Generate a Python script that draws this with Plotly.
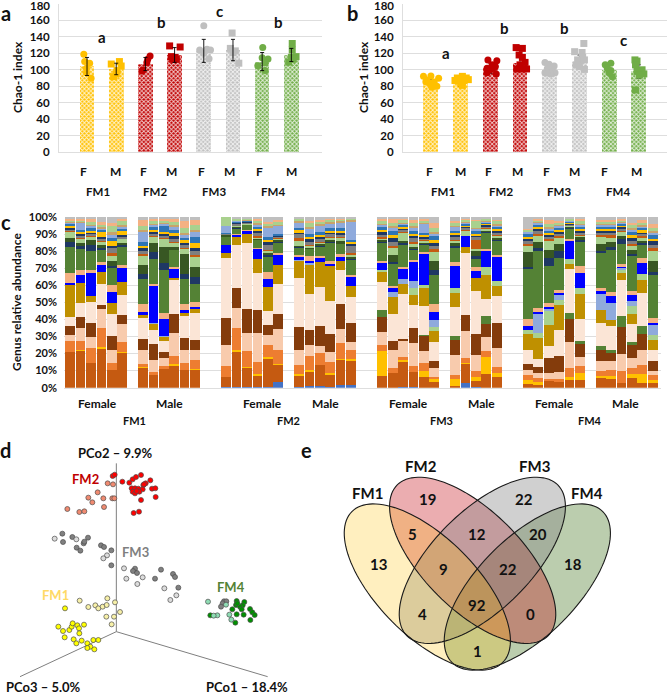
import math
import plotly.graph_objects as go

W, H = 667, 698

# ---------- panels a / b ----------
group_names = ["FM1", "FM2", "FM3", "FM4"]
sex_labels = ["F", "M", "F", "M", "F", "M", "F", "M"]
bar_colors = ["#ffc000", "#ffc000", "#c00000", "#c00000", "#bfbfbf", "#bfbfbf", "#70ad47", "#70ad47"]
dot_colors = ["#ffc000", "#ffc000", "#c00000", "#c00000", "#bfbfbf", "#bfbfbf", "#70ad47", "#70ad47"]
y_tick_values = [0, 20, 40, 60, 80, 100, 120, 140, 160]
y_top_label = "180"

a_means = [104, 101, 107, 118, 123, 124, 110, 118]
a_errors = [11, 7, 8, 9, 14, 13, 11, 8]
a_values = [
    [119, 110, 108, 102, 96.5, 89.6],
    [107, 110, 104.6, 99, 95, 91.6],
    [116.7, 112.7, 109, 99.7, 98.5],
    [129, 127.7, 116, 115, 112.7, 112.7],
    [153.6, 124, 125, 124, 120, 113.5],
    [144.7, 126, 123, 121, 108],
    [127, 114.7, 113, 108.6, 105, 99],
    [132, 124, 116, 115, 112.7, 109.5],
]
a_jitter = [
    [-.11, -.08, .09, -.02, -.02, .14],
    [-.17, .11, .17, .03, 0, -.09],
    [.16, .08, .05, -.09, -.11],
    [-.17, .19, -.11, .02, -.06, .06],
    [0, -.14, .11, .23, 0, .18],
    [-.03, -.09, .08, 0, .2],
    [.02, 0, .2, .1, -.15, .1],
    [.03, .03, .16, 0, .05, -.09],
]
a_letters = ["a", "b", "c", "b"]

b_means = [84, 85, 102, 108, 100, 110, 100, 98]
b_errors = [5, 5, 6, 8, 5, 8, 5, 8]
b_values = [
    [92, 92.4, 89.6, 87.6, 83.5, 80, 78.6, 85.5, 85],
    [90, 92, 90, 88, 87, 87, 87, 81, 84],
    [112, 111, 106, 104, 102, 100, 96.5, 95, 102],
    [127, 126, 118, 115, 109, 106, 101, 101, 101],
    [109, 106.6, 104.6, 101.7, 99, 96.5, 96.5, 95, 96],
    [132, 122, 121, 115, 112, 112, 106, 100.5, 104],
    [106, 108, 102, 99, 91.6, 96.5],
    [112, 110.6, 106, 100, 98, 95, 93.6, 75.4],
]
b_jitter = [
    [-.25, 0, .26, -.13, -.04, .2, .03, -.17, .11],
    [-.11, .06, .19, .26, -.06, .11, -.19, .06, 0],
    [-.08, .22, .06, .17, -.11, 0, -.11, .2, .09],
    [-.13, .08, -.03, .08, .17, 0, -.11, .22, .06],
    [-.16, -.02, .15, -.08, .09, -.16, .18, .03, -.08],
    [.15, -.16, .09, .11, -.06, .17, -.11, .17, 0],
    [-.13, .06, -.06, .06, .11, 0],
    [-.13, -.06, -.11, .11, -.06, .17, .02, -.11],
]
b_letters = ["a", "b", "b", "c"]

# ---------- panel c ----------
genus_names = ["steel", "rust", "gold", "orange", "peach", "brown", "green0", "pale", "dgold", "lg1", "lb1",
               "blue", "tan", "green", "navy", "dk", "lg2",
               "rust2", "olive", "navy2", "yellow", "blue2", "lb2", "tan2", "lg3", "peach2", "gray"]
genus_colors = ["#4472c4", "#c55a11", "#ffc000", "#ed7d31", "#f8cbad", "#843c0c", "#548235", "#fbe5d6", "#bf9000",
                "#a9d18e", "#8faadc", "#0000ff", "#f4b183", "#548235", "#1f3864", "#385723", "#a9d18e",
                "#c55a11", "#7f7f7f", "#1f3864", "#ffc000", "#2e75b6", "#8faadc", "#c9a36a", "#a9d18e", "#f4b183", "#bfbfbf"]

fm1_female = [
    [0,20.9,0,6.4,3.5,5,0,5.3,18.5,0,0,1.6,5.5,15.6,2.8,2.3,3.6, .5,1,1,.7,1.3,.8,.4,1,1,.8],
    [0,21.7,.2,5.5,7.4,6.2,0,8.4,11.7,0,0,4.7,2.6,12.5,1.5,2,2.5, .5,1,1.2,.8,1.5,4.5,.4,.8,1,.8],
    [0,14.3,0,8.8,6.4,8.2,0,12.3,3.3,0,0,13.5,1.9,10.9,3.3,2.9,2, .7,1,1,.8,1.5,1.5,1,1,2.5,.6],
    [0,22.7,1,11.2,10.9,2.5,0,12.3,7.2,0,0,4,1.5,7.2,1.2,2,2, .5,1,1,2.7,1.5,1,.5,1.5,1.5,3],
    [0,10.2,0,4.3,7.6,8.2,0,12.5,6.2,0,0,6.6,4.3,9.8,1,3.1,3, 1.5,3,1,3,2,2,1,3.5,2,3.5],
    [0,20.5,.3,6,10.5,5.3,0,11.5,7.4,0,0,8.8,1,10.7,1.2,1,2.5, .5,1,1,2,1.5,1.5,.8,2.2,1.5,.8],
]
fm1_male = [
    [0,11.7,.2,1.6,8.6,6.4,0,11.9,2,0,0,1.6,4.9,14.2,2.8,5.3,5.5, 1,1.5,2,1,2.5,6,1,2,4,1.5],
    [0,7.4,0,2,7,9,0,8.4,3.3,0,.5,21.5,1.5,14.3,3.9,5.5,3.5, .7,1,1.5,1,1.5,1.5,.5,1.5,1.5,.8],
    [0,11.1,0,1.6,4.5,3.9,0,6.3,2.3,0,.5,10,3.3,25.4,4.3,8.8,5.5, .5,1,1,.8,4,1,.5,1,1.5,1],
    [0,12.9,1,4.5,13.7,10.9,0,19.9,1.2,0,0,5.3,1,9.8,.5,1,2.7, .7,1.5,1.5,2,1.5,2,1,2,2,.8],
    [0,10.4,0,4.1,7.6,7.4,0,12.5,1.8,0,0,2.1,3.5,14.6,3.1,11.5,3, .7,1.5,1.5,2,1,2,.7,3,4,2.4],
    [0,10.7,.3,5,6,6,0,15.6,2.5,0,0,.8,3,10.4,3.9,5.9,6.2, 1,2.5,1.5,3,3.5,3,.7,3,3,1.8],
]
fm2_female = [
    [.6,5.9,0,6.4,12.3,15.6,0,35.2,2.9,0,0,4.5,0,5,.3,.8,.3, 0,.4,.2,0,.2,4.3,0,5.1,0,0],
    [.5,20.5,1,12.7,12.1,11.3,0,25,4.9,0,0,1.2,.5,3.5,.5,.5,.5, .2,.8,.5,.3,.5,.5,.3,1,.2,.7],
    [.5,11.4,.3,9.5,11,14.2,0,39,5.5,0,0,2,.2,3,.2,.3,.3, .1,.6,.4,.3,.4,.3,.2,.9,.1,.6],
    [.5,6.5,1.2,6.8,16.8,13.5,0,21.5,8.4,0,0,5.9,.5,4.5,.5,.5,.7, .5,2,1.2,.8,1.5,1.5,.5,1.5,1,1.2],
    [.5,16.7,1,6.8,5.9,5.9,0,7.8,14.6,0,0,4.5,4,9,.8,1.5,1, .5,3,2,1.2,1.5,5.5,.7,1.5,1,3],
    [3.5,10,.6,7.8,12.3,8.8,0,17.4,11.3,0,0,5.9,1,6.2,.6,.8,.8, .4,.8,.5,.3,.7,5,.3,2,.5,2],
]
fm2_male = [
    [.6,6.5,1,5.3,8.8,13.3,0,28.7,10.4,0,.5,2,.5,4.5,.5,.5,3, 1.8,2,1.4,1,1.6,3,.6,1.5,.5,.6],
    [1,8,1.2,8.2,6.8,8.8,0,21,17.6,0,1,.5,3.5,3.9,.5,.5,.7, .5,2,1.3,1.2,2,3.5,.8,2,1.2,2.5],
    [.8,12.5,0,7.3,4.1,11.7,0,22.5,15,0,0,2,1.4,5.5,.5,1,.8, .6,1.5,1.5,1,1.6,4,.6,1.5,1,1.7],
    [.3,7.5,1,6.4,5.9,10.2,0,19.7,20.5,0,0,1,2,10.7,.5,1,1, .6,1.5,1.2,1,1.6,2.6,.6,2,.4,.8],
    [1.5,15,.5,9.3,7.8,15.2,0,19.7,5,0,0,2.3,2,5.9,.5,1,2, .6,1.7,1,1,1.5,3.5,.6,1.2,.5,.7],
    [1.5,14.4,.8,5.5,4.5,10.9,0,15.2,6.6,0,0,5.7,.6,8.8,1,.8,1.5, 1,4,1.2,.7,1.4,11,.5,1.2,0,.7],
]
fm3_female = [
    [0,6.8,14.8,3.3,7.6,9,3.9,16.4,6.2,.7,0,4.5,1,10.7,.6,1,1, .6,1.5,1.7,1,1.5,1.5,.6,1.5,1.5,1],
    [0,8.4,0,3.1,10.5,5.3,0,15.8,10.2,0,2.5,2.7,1,13,1,4.3,4.5, 1,2,2.4,1.5,2.5,2,1,1.5,2.8,1],
    [.5,14.8,.6,2,9,1.5,0,26,5.7,0,2.9,6.3,1,13,.8,1.4,4.5, .8,1,1,.8,1,1,.6,1,1.2,.8],
    [.3,8.7,0,3.7,13.3,8.8,0,13.7,5.9,3.9,3.9,11.3,1,6.2,.5,1,2, .8,2.2,1.6,1,1.6,2.3,.7,1.8,1.9,1.6],
    [0,6,3.9,4.5,7.2,8.8,.3,17,10.4,1.8,0,18.5,1,4.5,.5,.8,.8, .6,1,1.1,.7,1.4,5.2,.5,1,1.4,1],
    [0,3.5,1.6,1.4,4.9,4.3,0,11.3,6.2,2.5,3.9,4.5,5,17.2,2.9,4.9,5.9, 1,2,2,1.6,2.5,1.5,.9,2,3,3.5],
]
fm3_male = [
    [0,1.2,3.9,2.5,11.7,8.4,2.7,17,8.2,3.1,0,12.7,2,9,.8,1.5,1.5, .5,2,1,.8,1.5,2.5,.5,1.5,1,2.5],
    [2.7,11.5,.5,3,15.6,9.4,0,36,3.9,0,0,6.6,0,0,0,0,3, .4,1.3,.8,.6,.9,.8,.4,1.5,.4,.8],
    [.6,3.5,2,3.7,9.4,11.7,0,25,7.6,0,0,4.3,2,5.3,1,3.3,1, 5.3,1.5,1.2,.8,1.5,1.5,.5,4,.8,1.5],
    [0,7.8,10,3.7,8.4,7.8,4.3,10.4,13.7,4.9,0,9.4,1,9.8,.5,1,1, .4,1,.8,.5,.7,.6,.4,1.2,.5,.6],
    [0,5.9,2.5,3.3,11,14.8,0,15.4,5.9,2.9,0,13.7,1,8.2,.6,1,1.4, .5,1,1.2,1,1.3,1,.5,2,.7,1.5],
]
fm4_female = [
    [0,2.1,2.3,3.3,2.5,3.9,0,8.2,9.2,2.5,0,2,4,29.3,1.4,8.4,4.3, .7,1.8,1.5,.8,1.6,1.3,.5,.8,.6,6.8],
    [0,1.5,2,2,3,3.3,0,5,12.1,2.9,11,1.5,2,33.2,2,3.3,3.5, 1.2,1.5,1.7,1,1.5,.8,.6,1,.9,.9],
    [0,3.9,0,1.2,3.7,8.4,0,7.4,12.1,8.6,1,.8,2.5,21.7,4.3,4.9,5, 1.5,1,1.5,1,1.5,1,.6,2,2.5,1.5],
    [0,3.5,0,1.6,4.3,9.4,0,14.8,14.8,2.9,2.9,1.5,1.5,18.5,4.3,4.1,3.9, .6,1.5,1.5,.9,1.3,1,.6,1.2,1,2.4],
    [0,4.5,1.8,5.5,15.2,13.7,3.7,25.6,2.9,3.5,0,10.7,1,6.2,.5,.5,.5, .3,.5,.5,.4,.7,.5,.3,1,.4,.6],
    [0,4.5,4.3,3.9,5,7.6,2,12.5,14.8,3.5,0,8.8,4,14.6,.5,2,.5, .5,1.2,1.4,1,1.3,1.3,.5,1.7,1.3,.8],
]
fm4_male = [
    [0,5.9,1.2,2.9,5.3,6.6,2.7,12.9,8,0,9.2,1.6,2,20.5,1,3.9,4.5, 1,1.2,1.5,.8,1.5,.9,.6,1.1,1,1.7],
    [0,5,2,3.3,4.9,4.7,2.1,13.7,3.5,0,10.2,3.5,2.5,25,1,2.9,3, 1,1.2,1.6,.8,1.5,1,.6,1.3,1,1.7],
    [0,2.9,0,7,9.6,16,6.4,21,4.5,1.5,1.5,.5,1.5,11.7,2.9,2,2.5, .8,.9,1,.8,1,.8,.4,.6,1,1.2],
    [0,5.9,2.1,3.7,5.9,7.4,1.6,10.5,6,4.7,2.9,3.1,2.5,20.7,1,2,3, .8,2,2,1,2,1.5,.8,1.5,1.4,3.5],
    [0,2.9,5.3,5,8.8,9.2,5,19,7.8,3.5,0,6.4,3,8.2,.7,1,2, .8,1.2,1.4,.9,1.4,1.2,.5,1.5,1.6,1.7],
    [0,3,1.4,3,2.5,5.5,0,6.8,5.9,3,5.5,1.4,2.5,25.4,2,5.9,6.2, 1.5,2,2,1.3,2.5,1.5,.8,1.7,2.5,4],
]
abundance_groups = [fm1_female, fm1_male, fm2_female, fm2_male, fm3_female, fm3_male, fm4_female, fm4_male]
group_starts = [0, 7, 15, 22, 30, 37, 44, 51]

# ---------- panel d ----------
pco_groups = {
    "fm2_f": ([338,344,367,388,398,408,423,451,437,430,395,405,415,428,398,405,418,456,466,467,423,401,417,410,432],
              [138,134,155,158,148,141,135,151,160,165,175,175,176,178,185,190,185,176,175,201,210,249,245,183,163]),
    "fm2_m": ([323,339,293,265,277,310,337,343,312,202,238,253],
              [160,163,187,203,217,205,205,205,231,237,246,244]),
    "fm3_f": ([187,189,217,230,241,251,253,264,303,312,334,334,405,399,411,465,483,519,525,535,672,679,668,663],
              [311,336,321,353,362,340,335,323,346,351,361,406,416,423,429,446,419,432,441,473,514,514,520,530]),
    "fm3_m": ([164,229,321,310,372,379,428,412,493,529,511],
              [326,328,376,385,415,446,442,462,475,496,510]),
    "fm1_f": ([195,175,189,208,215,218,232,237,252,238,194,221,229,245,262,280,295,271,262,283],
              [535,590,603,600,590,580,586,595,584,610,622,628,640,632,640,630,630,650,654,658]),
    "fm1_m": ([239,322,345,265,286,295,308,320,360,319,342,335],
              [512,505,517,531,526,535,530,525,546,560,560,583]),
    "fm4_f": ([710,733,708,728,720,697,725,750,757,764,631,710,731,751,706,712],
              [513,516,525,526,530,538,538,537,547,555,556,553,554,570,578,520]),
    "fm4_m": ([624,678,652,641,688,694],
              [515,524,556,557,554,569]),
}
pco_fill = {"fm2_f": "#ff0000", "fm2_m": "#f08a70", "fm3_f": "#808080", "fm3_m": "#dcdcdc",
            "fm1_f": "#ffff00", "fm1_m": "#f7f0a8", "fm4_f": "#009000", "fm4_m": "#8fdcb4"}

# ---------- panel e ----------
venn_sets = ["FM1", "FM2", "FM3", "FM4"]
venn_counts = [19, 22, 13, 5, 12, 20, 18, 9, 22, 4, 92, 0, 1]

# ---------- helpers ----------
def dx(l, r):
    return [l / W, r / W]

def dy(t, b):
    return [1 - b / H, 1 - t / H]

FONT = "Lato"
INK = "#111111"
annotations = []

def label(x, y, text, size=11, color=INK, angle=0, xref="paper", yref="paper"):
    if xref == "paper":
        x, y = x / W, 1 - y / H
    annotations.append(dict(x=x, y=y, xref=xref, yref=yref, text=f"<b>{text}</b>", showarrow=False,
                            font=dict(family=FONT, size=size, color=color), textangle=angle,
                            xanchor="center", yanchor="middle"))

fig = go.Figure()
GRID = "#dedede"

def chao_panel(xa, ya, means, errors, values, jitter, errors_on_top):
    positions = list(range(8))
    for i in positions:
        fig.add_trace(go.Bar(x=[i], y=[means[i]], width=0.5, xaxis=xa, yaxis=ya, showlegend=False,
                             marker=dict(color=bar_colors[i], line_width=0,
                                         pattern=dict(shape="x", size=3, solidity=0.55, fgcolor="#ffffff",
                                                      fgopacity=0.8, fillmode="overlay"))))
    err = go.Scatter(x=positions, y=means, xaxis=xa, yaxis=ya, mode="markers", showlegend=False,
                     marker=dict(opacity=0, size=1),
                     error_y=dict(type="data", array=errors, color="#000000", thickness=0.9, width=2))
    if not errors_on_top:
        fig.add_trace(err)
    for i in positions:
        fig.add_trace(go.Scatter(x=[i + j for j in jitter[i]], y=values[i], xaxis=xa, yaxis=ya, mode="markers",
                                 showlegend=False,
                                 marker=dict(color=dot_colors[i], size=7, symbol="circle" if i % 2 == 0 else "square",
                                             line_width=0)))
    if errors_on_top:
        fig.add_trace(err)

chao_panel("x", "y", a_means, a_errors, a_values, a_jitter, True)
chao_panel("x2", "y2", b_means, b_errors, b_values, b_jitter, False)

# stacked abundance bars: normalise each bar to 100 %
bar_x = []
bar_rows = []
for start, group in zip(group_starts, abundance_groups):
    for k, row in enumerate(group):
        bar_x.append(start + k)
        total = sum(row)
        bar_rows.append([v * 100 / total for v in row])
for s, name in enumerate(genus_names):
    fig.add_trace(go.Bar(x=bar_x, y=[row[s] for row in bar_rows], name=name, xaxis="x3", yaxis="y3",
                         width=0.93, showlegend=False, marker=dict(color=genus_colors[s], line_width=0)))

# PCoA
fig.add_trace(go.Scatter(x=[349, 349, None, 349, 803, None, 349, 60], y=[100, 605, None, 605, 740, None, 605, 740],
                         xaxis="x4", yaxis="y4", mode="lines", showlegend=False,
                         line=dict(color="#7f7f7f", width=1)))
for key, (xs, ys) in pco_groups.items():
    fig.add_trace(go.Scatter(x=xs, y=ys, xaxis="x4", yaxis="y4", mode="markers", showlegend=False,
                             marker=dict(color=pco_fill[key], size=5, line=dict(color="#4d4d4d", width=0.7))))

# Venn ellipses
def ellipse_path(cx, cy, a, b, deg):
    t = math.radians(deg)
    pts = []
    for k in range(121):
        u = 2 * math.pi * k / 120
        ex, ey = a * math.cos(u), b * math.sin(u)
        pts.append((cx + ex * math.cos(t) - ey * math.sin(t), cy + ex * math.sin(t) + ey * math.cos(t)))
    return "M " + " L ".join(f"{x:.1f},{y:.1f}" for x, y in pts) + " Z"

shapes = []
venn_geometry = [(682, 471, -45, "rgba(84,130,53,0.40)"), (518, 391, 45, "rgba(192,0,10,0.32)"),
                 (547, 391, -45, "rgba(127,127,127,0.37)"), (382, 471, 45, "rgba(255,192,0,0.25)")]
for (cx, cy, deg, col) in venn_geometry:
    shapes.append(dict(type="path", path=ellipse_path(cx, cy, 320, 148, deg), xref="x5", yref="y5",
                       fillcolor=col, line_width=0, layer="below"))
for (cx, cy, deg, col) in venn_geometry:
    shapes.append(dict(type="path", path=ellipse_path(cx, cy, 320, 148, deg), xref="x5", yref="y5",
                       fillcolor="rgba(0,0,0,0)", line=dict(color="#1a1a1a", width=1.1), layer="below"))

# ---------- text ----------
label(6, 13, "a", 20); label(352, 13, "b", 20); label(6, 222, "c", 20); label(6, 450, "d", 20); label(306, 450, "e", 20)
label(17, 77, "Chao-1 index", 12, angle=-90)
label(363, 77, "Chao-1 index", 12, angle=-90)
label(16, 302, "Genus relative abundance", 12, angle=-90)
label(40, 6, y_top_label, 11.5)
label(384, 6, y_top_label, 11.5)

for x, t in zip([83, 115, 143, 171, 201, 229, 259, 291], sex_labels):
    label(x, 171, t, 12)
for x, t in zip([429, 460, 488, 517, 546, 574, 604, 636], sex_labels):
    label(x, 171, t, 12)
for x, t in zip([98, 155, 214, 273], group_names):
    label(x, 191, t, 11.5)
for x, t in zip([443, 501, 559, 618], group_names):
    label(x, 191, t, 11.5)
for (x, y), t in zip([(102, 37), (161, 22), (219, 11), (278, 22)], a_letters):
    label(x, y, t, 15)
for (x, y), t in zip([(446, 53), (504, 28), (564, 28), (623, 40)], b_letters):
    label(x, y, t, 15)

for x, t in zip([97, 169, 262, 325, 408, 481, 554, 625], ["Female", "Male"] * 4):
    label(x, 404, t, 12)
for x, t in zip([134, 288, 441, 590], group_names):
    label(x, 420, t, 11)

for x, y, t, c in [(347, 68, "PCo2 – 9.9%", INK), (130, 772, "PCo3 – 5.0%", INK), (740, 772, "PCo1 – 18.4%", INK),
                   (255, 148, "FM2", "#c00000"), (406, 365, "FM3", "#7f7f7f"), (165, 495, "FM1", "#ffd966"),
                   (693, 472, "FM4", "#548235")]:
    label(x, y, t, 13, c, xref="x4", yref="y4")

for (x, y), t in zip([(202, 188), (363, 108), (702, 108), (862, 188)], venn_sets):
    label(x, y, t, 15, xref="x5", yref="y5")
venn_spots = [(383, 208), (673, 208), (236, 402), (338, 313), (532, 313), (715, 313), (820, 402),
              (430, 416), (625, 416), (366, 552), (532, 525), (692, 552), (532, 663)]
for (x, y), t in zip(venn_spots, venn_counts):
    label(x, y, str(t), 15, xref="x5", yref="y5")

# ---------- layout ----------
hidden = dict(visible=False, showgrid=False, zeroline=False, automargin=False)

def chao_y(domain, anchor):
    return dict(domain=domain, anchor=anchor, range=[0, 180], tickmode="array", tickvals=y_tick_values,
                showgrid=True, gridcolor=GRID, gridwidth=1, zeroline=False, showline=True, linecolor=GRID,
                ticks="", automargin=False, ticklabelstandoff=6,
                tickfont=dict(family=FONT, size=11.5, color=INK, weight=700))

plain_x = dict(showgrid=False, zeroline=False, showline=True, linecolor=GRID, showticklabels=False, ticks="",
               automargin=False)

fig.update_layout(
    template="none",
    width=W, height=H, margin=dict(l=0, r=0, t=0, b=0, autoexpand=False), paper_bgcolor="white",
    plot_bgcolor="rgba(0,0,0,0)", barmode="stack", showlegend=False, annotations=annotations, shapes=shapes,
    xaxis=dict(domain=dx(59, 322), anchor="y", range=[-0.96, 8.05], **plain_x),
    yaxis=chao_y(dy(4, 152), "x"),
    xaxis2=dict(domain=dx(403, 667), anchor="y2", range=[-0.94, 7.95], **plain_x),
    yaxis2=chao_y(dy(4, 152), "x2"),
    xaxis3=dict(domain=dx(64, 661), anchor="y3", range=[-0.6, 56.8], **plain_x),
    yaxis3=dict(domain=dy(217, 387.7), anchor="x3", range=[0, 100], tick0=0, dtick=10, ticksuffix="%", showgrid=True,
                gridcolor=GRID, zeroline=False, ticks="", automargin=False, ticklabelstandoff=6,
                tickfont=dict(family=FONT, size=11, color=INK, weight=700)),
    xaxis4=dict(domain=dx(0, 300), anchor="y4", range=[0, 900], **hidden),
    yaxis4=dict(domain=dy(430, 698), anchor="x4", range=[804, 0], **hidden),
    xaxis5=dict(domain=dx(300, 667), anchor="y5", range=[0, 1101], **hidden),
    yaxis5=dict(domain=dy(430, 698), anchor="x5", range=[804, 0], **hidden),
)

fig.write_html("out.html", config={"displayModeBar": False}, post_script="document.body.style.margin='0';")
